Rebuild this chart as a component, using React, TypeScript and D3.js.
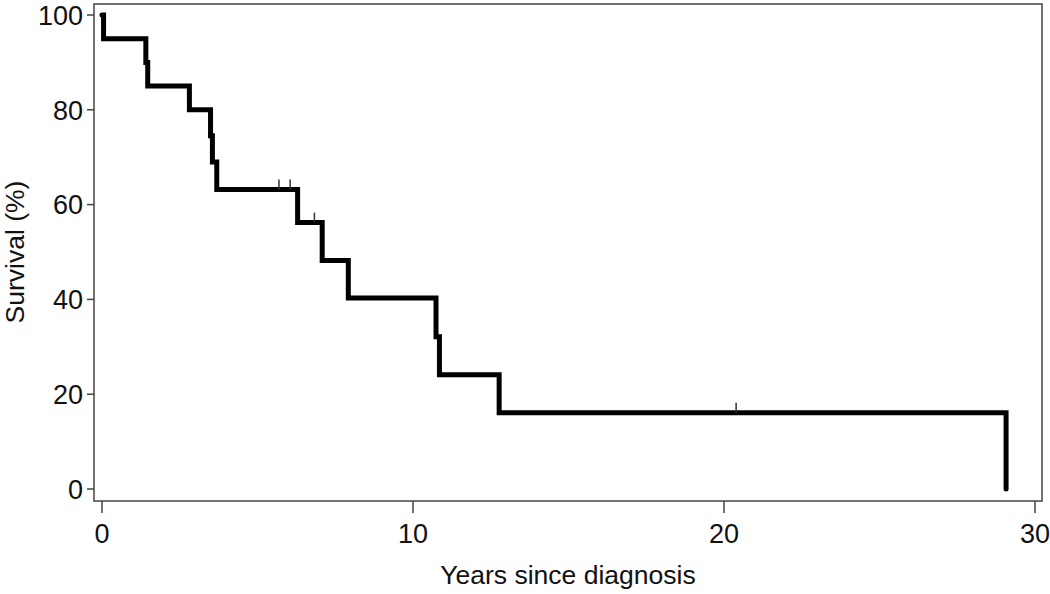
import React from 'react'
import * as d3 from 'd3'

// Kaplan-Meier steps
const stepTimes = [0, 0.05, 1.41, 1.47, 2.81, 3.49, 3.55, 3.69, 6.29, 7.08, 7.92, 10.74, 10.85, 12.77, 29.07]
const survival = [100, 95, 90, 85, 80, 74.5, 69, 63.2, 56.2, 48.2, 40.3, 32.1, 24.1, 16.1, 0]
const censorTimes = [5.69, 6.05, 6.83, 20.39]
const xTicks = [0, 10, 20, 30]
const yTicks = [0, 20, 40, 60, 80, 100]

const width = 1050
const height = 594
const frame = {left: 94, top: 4, right: 1042, bottom: 501}

const survivalAt = (t: number) => {
    let s = survival[0]
    stepTimes.forEach((st, i) => { if (st <= t) s = survival[i] })
    return s
}

export default function App() {
    const xScale = d3.scaleLinear().domain([0, 30]).range([102, 1035])
    const yScale = d3.scaleLinear().domain([0, 100]).range([489, 15])

    const points: [number, number][] = stepTimes.map((t, i) => [t, survival[i]])
    const line = d3.line<[number, number]>()
        .x(d => xScale(d[0]))
        .y(d => yScale(d[1]))
        .curve(d3.curveStepAfter)

    const font = '"Liberation Sans", Arial, sans-serif'

    return (
        <svg width={width} height={height}
            style={{position: 'absolute', left: 0, top: 0, background: '#fff', fontFamily: font}}>
            <rect x={frame.left} y={frame.top}
                width={frame.right - frame.left} height={frame.bottom - frame.top}
                fill="none" stroke="#444" strokeWidth={1.5} />
            {
                yTicks.map((v, i) => (
                    <g key={i} transform={`translate(0,${yScale(v)})`}>
                        <line x1={frame.left - 7} x2={frame.left} stroke="#444" strokeWidth={1.5} />
                        <text x={frame.left - 11} dy=".36em" textAnchor="end" fontSize={27} fill="#111">{v}</text>
                    </g>
                ))
            }
            {
                xTicks.map((v, i) => (
                    <g key={i} transform={`translate(${xScale(v)},0)`}>
                        <line y1={frame.bottom} y2={frame.bottom + 12} stroke="#444" strokeWidth={1.5} />
                        <text y={543} textAnchor="middle" fontSize={27} fill="#111">{v}</text>
                    </g>
                ))
            }
            <path d={line(points) || ''} fill="none" stroke="#000" strokeWidth={5}
                strokeLinejoin="miter" strokeLinecap="round" />
            {
                censorTimes.map((t, i) => (
                    <line key={i} x1={xScale(t)} x2={xScale(t)}
                        y1={yScale(survivalAt(t))} y2={yScale(survivalAt(t)) - 10}
                        stroke="#333" strokeWidth={1.5} />
                ))
            }
            <text x={568} y={584} textAnchor="middle" fontSize={26.5} fill="#111">Years since diagnosis</text>
            <text transform={`translate(24,252) rotate(-90)`} textAnchor="middle" fontSize={26.5} fill="#111">Survival (%)</text>
        </svg>
    )
}
